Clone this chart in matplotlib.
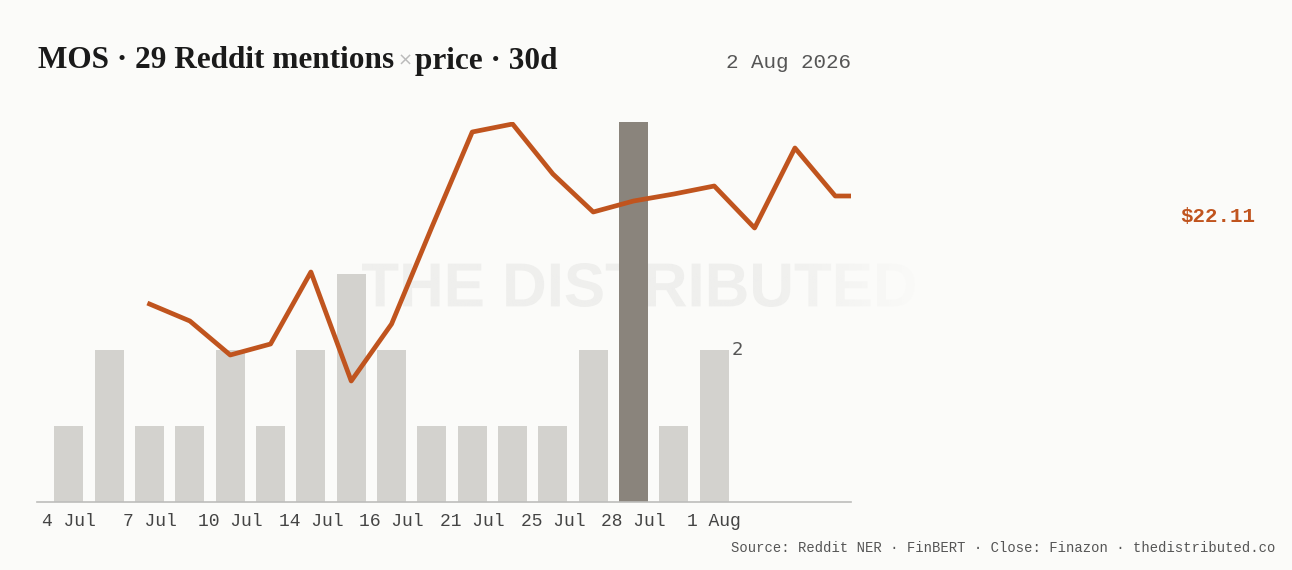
import matplotlib
matplotlib.use("Agg")
import numpy as np
import matplotlib.pyplot as plt
from matplotlib.textpath import TextPath
from matplotlib.patches import PathPatch
from matplotlib.font_manager import FontProperties
from matplotlib.transforms import Affine2D
from matplotlib.colors import to_rgb

# ---- data ----
tick_labels = ["4 Jul", "7 Jul", "10 Jul", "14 Jul", "16 Jul", "21 Jul", "25 Jul", "28 Jul", "1 Aug"]
mentions = [1, 2, 1, 1, 2, 1, 2, 3, 2, 1, 1, 1, 1, 2, 5, 1, 2]
highlight_idx = 14
price_pos = [2, 3, 4, 5, 6, 7, 8, 9, 10, 11, 12, 13, 14, 15, 16, 17, 18, 19, 20]
price = [21.03, 20.86, 20.52, 20.63, 21.35, 20.26, 20.83, 21.80, 22.75, 22.83,
         22.33, 21.95, 22.06, 22.13, 22.21, 21.79, 22.59, 22.11, 22.11]
last_price_label = "$22.11"
date_label = "2 Aug 2026"
title_left = "MOS · 29 Reddit mentions"
title_right = "price · 30d"
source_label = "Source: Reddit NER · FinBERT · Close: Finazon · thedistributed.co"
watermark = "THE DISTRIBUTED"

BG = "#FBFBF9"
BAR = "#D3D2CE"
BAR_HI = "#8A847C"
LINE = "#C0541E"

W, H = 1292, 570
fig = plt.figure(figsize=(W / 100, H / 100), dpi=100, facecolor=BG)

def px(x0, y0, x1, y1):
    return [x0 / W, 1 - y1 / H, (x1 - x0) / W, (y1 - y0) / H]

# background axes in pixel coordinates for the watermark
bg = fig.add_axes([0, 0, 1, 1], zorder=0)
bg.set_xlim(0, W)
bg.set_ylim(H, 0)
bg.axis("off")
fp = FontProperties(family="Liberation Sans", weight="bold")
tp = TextPath((0, 0), watermark, size=100, prop=fp)
ext = tp.get_extents()
wx0, wx1, wy_top, wy_bot = 362, 915, 263, 307
sx = (wx1 - wx0) / ext.width
sy = (wy_bot - wy_top) / ext.height
trans = Affine2D().translate(-ext.x0, -ext.y0).scale(sx, -sy).translate(wx0, wy_bot)
path = trans.transform_path(tp)
patch = PathPatch(path, facecolor="none", edgecolor="none", transform=bg.transData)
bg.add_patch(patch)
gx = np.linspace(wx0, wx1, 400)
alpha = np.clip((930 - gx) / (930 - 770), 0, 1)
rgb = to_rgb("#EFEFED")
img = np.zeros((2, len(gx), 4))
img[..., 0], img[..., 1], img[..., 2] = rgb
img[..., 3] = alpha
im = bg.imshow(img, extent=(wx0, wx1, wy_bot + 2, wy_top - 2), aspect="auto",
               interpolation="bilinear", zorder=0)
im.set_clip_path(patch)
bg.set_xlim(0, W)
bg.set_ylim(H, 0)

ax = fig.add_axes(px(37, 122, 851, 502), zorder=1)
ax.set_facecolor("none")
xs = list(range(len(mentions)))
colors = [BAR_HI if i == highlight_idx else BAR for i in xs]
ax.bar(xs, mentions, width=0.72, color=colors, zorder=2)
ax.set_xlim(-0.79, 19.39)
ax.set_ylim(0, 5)
for s in ["top", "right", "left"]:
    ax.spines[s].set_visible(False)
ax.spines["bottom"].set_color("#BDBDBB")
ax.spines["bottom"].set_linewidth(1.2)
ax.set_yticks([])
ax.set_xticks(xs[::2])
ax.set_xticklabels(tick_labels, family="Liberation Mono", fontsize=13, color="#444444")
ax.tick_params(axis="x", length=0, pad=8)
ax.text(xs[-1] + 0.42, mentions[-1], str(mentions[-1]), family="DejaVu Sans", fontsize=13,
        color="#555555", ha="left", va="center")

ax2 = ax.twinx()
ax2.set_ylim(19.05, 22.85)
ax2.plot(price_pos, price, color=LINE, lw=3.4, solid_joinstyle="round", zorder=3)
ax2.set_xlim(-0.79, 19.39)
ax2.axis("off")

# title pieces
r = fig.canvas.get_renderer()
tx = 38 / W
ty = 1 - 61 / H
t1 = fig.text(tx, ty, title_left, family="Liberation Serif", fontweight="bold",
              fontsize=22.5, color="#1A1A1A", ha="left", va="center")
bb = t1.get_window_extent(r)
t2 = fig.text((bb.x1 + 3) / W, ty, "×", family="DejaVu Sans", fontsize=13, color="#BBBBBB",
              ha="left", va="center")
bb2 = t2.get_window_extent(r)
fig.text((bb2.x1 + 3) / W, ty, title_right, family="Liberation Serif", fontweight="bold",
         fontsize=22.5, color="#1A1A1A", ha="left", va="center")

fig.text(851 / W, 1 - 63 / H, date_label, family="Liberation Mono", fontsize=15,
         color="#555555", ha="right", va="center")
fig.text(1255 / W, 1 - 216 / H, last_price_label, family="Liberation Mono", fontsize=15,
         fontweight="bold", color=LINE, ha="right", va="center")
fig.text(1275 / W, 1 - 548 / H, source_label, family="Liberation Mono", fontsize=10,
         color="#555555", ha="right", va="center")

fig.savefig("out.png", dpi=100, facecolor=BG)
